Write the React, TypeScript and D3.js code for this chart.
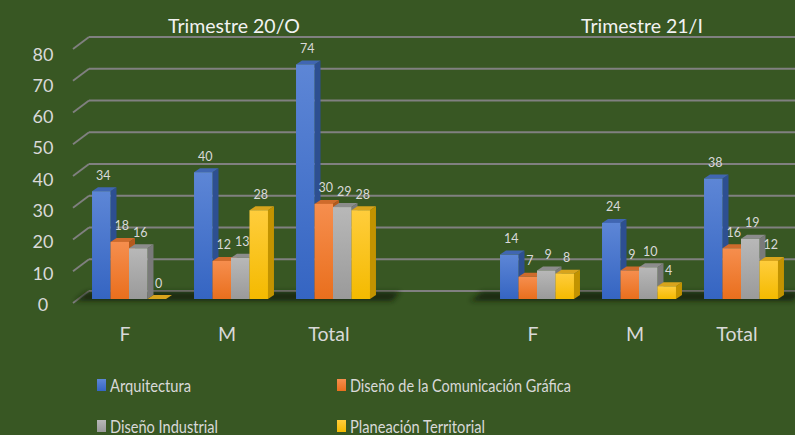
import * as d3 from 'd3';
import React, { useEffect, useRef } from 'react';

const periods = ['Trimestre 20/O', 'Trimestre 21/I'];
const categories = ['F', 'M', 'Total'];
const seriesNames = ['Arquitectura', 'Diseño de la Comunicación Gráfica', 'Diseño Industrial', 'Planeación Territorial'];

// values per series, per period, per category (F, M, Total)
const arquitectura = [[34, 40, 74], [14, 24, 38]];
const comunicacionGrafica = [[18, 12, 30], [7, 9, 16]];
const disenoIndustrial = [[16, 13, 29], [9, 10, 19]];
const planeacion = [[0, 28, 28], [8, 4, 12]];

const yTicks = [0, 10, 20, 30, 40, 50, 60, 70, 80];

const seriesColors = [
    { front: ['#5d86d6', '#3565c2'], side: '#2d4f91', top: '#4066b2' },
    { front: ['#f68e4e', '#e96f1d'], side: '#b5591c', top: '#cf6b2c' },
    { front: ['#b8b8b8', '#9a9a9a'], side: '#7a7a7a', top: '#8c8c8c' },
    { front: ['#ffcd3c', '#f4ba00'], side: '#c29300', top: '#d8a41c' },
];

// legend text widths (the source font is narrow)
const legendWidths = [81, 221, 108, 135];

const App: React.FC = () => {
    const svgRef = useRef<SVGSVGElement>(null);

    useEffect(() => {
        if (!svgRef.current) return;
        d3.select(svgRef.current).selectAll('*').remove();

        const width = 795;
        const height = 435;
        const depthX = 6;
        const depthY = 4;
        const textColor = '#d9d9d9';
        const font = 'Lato, "Open Sans", sans-serif';

        const svg = d3.select(svgRef.current)
            .attr('width', width)
            .attr('height', height);

        svg.append('rect')
            .attr('width', width)
            .attr('height', height)
            .attr('fill', '#385723');

        const allValues = [arquitectura, comunicacionGrafica, disenoIndustrial, planeacion];

        // scales: wall (back gridlines), bar front, labels
        const yWall = d3.scaleLinear().domain([0, 80]).range([291, 37]);
        const yBar = d3.scaleLinear().domain([0, 80]).range([299, 45.4]);
        const yLabel = d3.scaleLinear().domain([0, 80]).range([304, 53.5]);

        const slots = [
            ...categories.map(c => `0-${c}`),
            'gap',
            ...categories.map(c => `1-${c}`),
        ];
        const x0 = d3.scaleBand<string>()
            .domain(slots)
            .range([78, 792])
            .paddingInner(0.275)
            .paddingOuter(0.1375);
        const x1 = d3.scaleBand<number>()
            .domain(d3.range(seriesNames.length))
            .range([0, x0.bandwidth()]);

        // gradients and shadow filter
        const defs = svg.append('defs');
        seriesColors.forEach((c, i) => {
            const g = defs.append('linearGradient')
                .attr('id', `grad-${i}`)
                .attr('x1', 0).attr('y1', 0).attr('x2', 0).attr('y2', 1);
            g.append('stop').attr('offset', '0%').attr('stop-color', c.front[0]);
            g.append('stop').attr('offset', '100%').attr('stop-color', c.front[1]);
        });
        const filter = defs.append('filter').attr('id', 'blur')
            .attr('x', '-10%').attr('y', '-100%').attr('width', '120%').attr('height', '300%');
        filter.append('feGaussianBlur').attr('stdDeviation', 2.5);

        // gridlines with perspective diagonal
        const grid = svg.append('g');
        yTicks.forEach(t => {
            grid.append('line')
                .attr('x1', 89).attr('x2', width)
                .attr('y1', yWall(t)).attr('y2', yWall(t))
                .attr('stroke', '#808080')
                .attr('stroke-width', 1.8);
            grid.append('line')
                .attr('x1', 73).attr('y1', yWall(t) + 12)
                .attr('x2', 89).attr('y2', yWall(t))
                .attr('stroke', '#808080')
                .attr('stroke-width', 1.8);
        });

        // y labels
        yTicks.forEach(t => {
            svg.append('text')
                .attr('x', 43)
                .attr('y', yLabel(t))
                .attr('text-anchor', 'middle')
                .attr('dominant-baseline', 'central')
                .attr('font-family', font)
                .attr('font-size', 18)
                .attr('fill', textColor)
                .text(t);
        });

        // floor shadows per period
        const shadowSpans = [[75, 392], [470, 793]];
        shadowSpans.forEach(([a, b]) => {
            svg.append('polygon')
                .attr('points', `${a},301 ${b},301 ${b + 8},292 ${a + 12},292`)
                .attr('fill', '#15220c')
                .attr('opacity', 0.85)
                .attr('filter', 'url(#blur)');
        });

        periods.forEach((period, p) => {
            const first = x0(`${p}-${categories[0]}`)!;
            const last = x0(`${p}-${categories[categories.length - 1]}`)! + x0.bandwidth();

            svg.append('text')
                .attr('x', (first + last) / 2 + 3)
                .attr('y', 25)
                .attr('text-anchor', 'middle')
                .attr('dominant-baseline', 'central')
                .attr('font-family', font)
                .attr('font-size', 19.5)
                .attr('fill', '#f2f2f2')
                .text(period);

            categories.forEach((cat, c) => {
                const gx = x0(`${p}-${cat}`)!;

                svg.append('text')
                    .attr('x', gx + x0.bandwidth() / 2 - 4)
                    .attr('y', 333)
                    .attr('text-anchor', 'middle')
                    .attr('dominant-baseline', 'central')
                    .attr('font-family', font)
                    .attr('font-size', 19.5)
                    .attr('fill', textColor)
                    .text(cat);

                seriesNames.forEach((_, s) => {
                    const v = allValues[s][p][c];
                    const bx = gx + x1(s)!;
                    const bw = x1.bandwidth();
                    const yt = yBar(v);
                    const yb = yBar(0);
                    const col = seriesColors[s];

                    // side
                    svg.append('polygon')
                        .attr('points', `${bx + bw},${yt} ${bx + bw + depthX},${yt - depthY} ${bx + bw + depthX},${yb - depthY} ${bx + bw},${yb}`)
                        .attr('fill', col.side);
                    // top
                    svg.append('polygon')
                        .attr('points', `${bx},${yt} ${bx + bw},${yt} ${bx + bw + depthX},${yt - depthY} ${bx + depthX},${yt - depthY}`)
                        .attr('fill', col.top);
                    // front
                    svg.append('rect')
                        .attr('x', bx)
                        .attr('y', yt)
                        .attr('width', bw)
                        .attr('height', yb - yt)
                        .attr('fill', `url(#grad-${s})`);

                    svg.append('text')
                        .attr('x', bx + bw / 2 + 2)
                        .attr('y', yt - 16)
                        .attr('text-anchor', 'middle')
                        .attr('dominant-baseline', 'central')
                        .attr('font-family', font)
                        .attr('font-size', 12.5)
                        .attr('fill', textColor)
                        .text(v);
                });
            });
        });

        // legend
        const legendPos = [[97, 385], [337, 385], [97, 426], [337, 426]];
        seriesNames.forEach((name, s) => {
            const [lx, ly] = legendPos[s];
            svg.append('rect')
                .attr('x', lx)
                .attr('y', ly - 6)
                .attr('width', 9)
                .attr('height', 12)
                .attr('fill', `url(#grad-${s})`);
            svg.append('text')
                .attr('x', lx + 13)
                .attr('y', ly)
                .attr('dominant-baseline', 'central')
                .attr('font-family', font)
                .attr('font-size', 17)
                .attr('textLength', legendWidths[s])
                .attr('lengthAdjust', 'spacingAndGlyphs')
                .attr('fill', textColor)
                .text(name);
        });
    }, []);

    return (
        <div>
            <style>{`body { margin: 0; background: #385723; } svg { display: block; }`}</style>
            <svg ref={svgRef}></svg>
        </div>
    );
};

export default App;
